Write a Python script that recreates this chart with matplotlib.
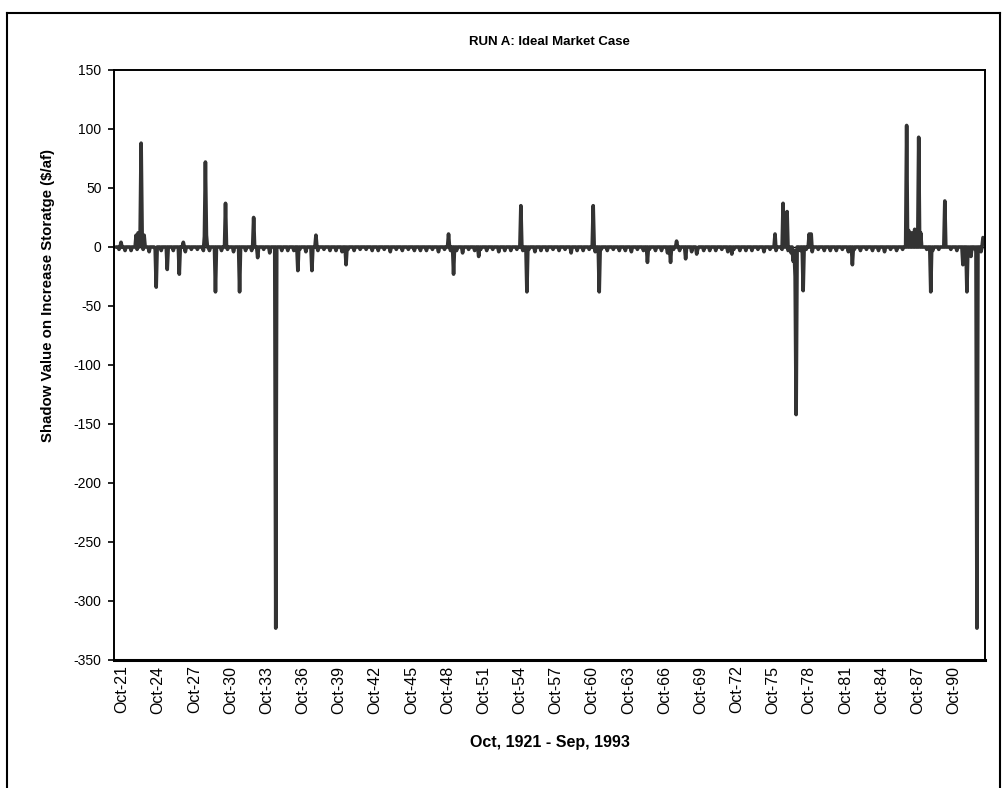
import numpy as np
import matplotlib.pyplot as plt
import matplotlib.transforms as mtransforms
from matplotlib.lines import Line2D

plt.rcParams['font.family'] = ['Liberation Sans', 'DejaVu Sans']
plt.rcParams['axes.unicode_minus'] = False

# months counted from Oct 1921 (index 0) to Sep 1993 (index 863)
n_months = 864

tick_labels = ['Oct-21', 'Oct-24', 'Oct-27', 'Oct-30', 'Oct-33', 'Oct-36',
               'Oct-39', 'Oct-42', 'Oct-45', 'Oct-48', 'Oct-51', 'Oct-54',
               'Oct-57', 'Oct-60', 'Oct-63', 'Oct-66', 'Oct-69', 'Oct-72',
               'Oct-75', 'Oct-78', 'Oct-81', 'Oct-84', 'Oct-87', 'Oct-90']
tick_months = [0, 36, 72, 108, 144, 180, 216, 252, 288, 324, 360, 396,
               432, 468, 504, 540, 576, 612, 648, 684, 720, 756, 792, 828]

# small summer dips seen in each water year (72 years)
year_dip = [-3, -2, -4, -3, -3, -4, -2, -3, -3,
            -4, -3, -3, -5, -3, -3, -4, -3, -3,
            -4, -3, -2, -3, -4, -3, -3, -3, -4,
            -3, -5, -3, -3, -4, -3, -3, -4, -3,
            -3, -5, -3, -4, -3, -3, -4, -3, -3,
            -5, -3, -4, -3, -3, -4, -3, -3, -4,
            -3, -3, -3, -4, -3, -3, -4, -3, -3,
            -4, -3, -3, -5, -3, -4, -3, -3, -4]
winter_dip = [-2, -3, -2, -2, -3, -2, -2, -3, -2,
              -2, -2, -3, -2, -2, -3, -2, -2, -2,
              -3, -2, -2, -3, -2, -2, -2, -3, -2,
              -2, -3, -2, -2, -2, -3, -2, -2, -3,
              -2, -2, -3, -2, -2, -2, -3, -2, -2,
              -3, -2, -2, -2, -3, -2, -2, -3, -2,
              -2, -2, -3, -2, -2, -3, -2, -2, -2,
              -3, -2, -2, -3, -2, -2, -2, -3, -2]
dip_month_in_year = 9
winter_month_in_year = 3

# larger shadow values
spike_month = [5, 20, 22, 24, 25, 26, 28, 40, 51, 63, 67, 88, 89, 90, 99,
               109, 123, 137, 141, 159, 181, 195, 199, 229, 331, 336, 361,
               403, 409, 475, 481, 529, 552, 558, 567, 578, 613, 656, 664,
               668, 672, 674, 676, 677, 684, 690, 692, 733, 787, 789, 792,
               795, 799, 801, 811, 825, 843, 847, 851, 857, 863]
spike_value = [4, 10, 12, 11, 88, 12, 10, -34, -19, -23, 4, 9, 72, 10, -38,
               37, -38, 25, -9, -323, -20, -20, 10, -15, 11, -23, -8,
               35, -38, 35, -38, -13, -13, 5, -10, -6, -6, 11, 37,
               30, -5, -12, -25, -142, -37, 11, 11, -15, 103, 14, 12,
               15, 93, 12, -38, 39, -15, -38, -8, -323, 8]

months = np.arange(n_months)
values = np.zeros(n_months)
for i, (d, w) in enumerate(zip(year_dip, winter_dip)):
    values[i * 12 + dip_month_in_year] = d
    values[i * 12 + winter_month_in_year] = w
for m, v in zip(spike_month, spike_value):
    values[m] = v

fig = plt.figure(figsize=(10.05, 7.88), dpi=100)
W, H = 1005, 788
ax = fig.add_axes([114 / W, 1 - 660 / H, (985 - 114) / W, (660 - 70) / H])

ax.axhline(0, color='black', lw=1.0, zorder=1)
ax.plot(months, values, color='#333333', lw=2.6, solid_joinstyle='round',
        solid_capstyle='round', zorder=2)

ax.set_xlim(-2, 865)
ax.set_ylim(-350, 150)
ax.set_yticks(np.arange(-350, 151, 50))
ax.tick_params(axis='y', direction='out', length=4, width=1.2, pad=5,
               labelsize=10)
ax.set_xticks(tick_months)
ax.set_xticklabels(tick_labels, rotation=90, fontsize=11.5)
ax.tick_params(axis='x', length=0, pad=4)
# category labels sit a little right of the month they name
shift = mtransforms.ScaledTranslation(6 / 100, 0, fig.dpi_scale_trans)
for lab in ax.get_xticklabels():
    lab.set_transform(lab.get_transform() + shift)
for s in ['top', 'right', 'left']:
    ax.spines[s].set_linewidth(1.4)
ax.spines['bottom'].set_linewidth(2.2)

fig.text(549 / W, 1 - 42 / H, 'RUN A: Ideal Market Case', ha='center',
         va='center', fontsize=9.5, fontweight='bold')
fig.text(550 / W, 1 - 743 / H, 'Oct, 1921 - Sep, 1993', ha='center',
         va='center', fontsize=11.5, fontweight='bold')
fig.text(48 / W, 1 - 296 / H, 'Shadow Value on Increase Storatge ($/af)',
         ha='center', va='center', rotation=90, fontsize=10.8,
         fontweight='bold')

# page frame around the chart
fig.add_artist(Line2D([7 / W, 7 / W], [0, 1 - 13 / H], color='black', lw=1.5))
fig.add_artist(Line2D([7 / W, 1000 / W], [1 - 13 / H, 1 - 13 / H],
                      color='black', lw=1.5))
fig.add_artist(Line2D([1000 / W, 1000 / W], [0, 1 - 13 / H], color='black',
                      lw=1.5))

fig.savefig('out.png', dpi=100)
